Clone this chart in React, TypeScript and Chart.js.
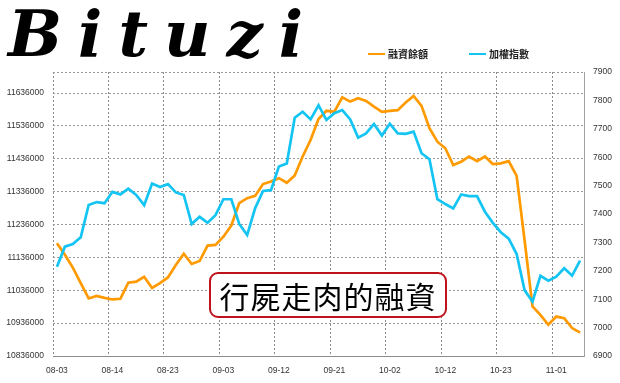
import React, { useEffect, useRef } from 'react';
import { Chart, registerables } from 'chart.js';

Chart.register(...registerables);

const dates = [
  '08-03', '08-06', '08-07', '08-08', '08-09', '08-10', '08-13', '08-14', '08-15', '08-16',
  '08-17', '08-20', '08-21', '08-22', '08-23', '08-24', '08-27', '08-28', '08-29', '08-30',
  '08-31', '09-03', '09-04', '09-05', '09-06', '09-07', '09-10', '09-11', '09-12', '09-13',
  '09-14', '09-17', '09-18', '09-19', '09-20', '09-21', '09-24', '09-25', '09-26', '09-27',
  '09-28', '10-01', '10-02', '10-03', '10-04', '10-05', '10-08', '10-09', '10-11', '10-12',
  '10-15', '10-16', '10-17', '10-18', '10-19', '10-22', '10-23', '10-24', '10-25', '10-26',
  '10-29', '10-30', '10-31', '11-01', '11-02', '11-05', '11-06',
];

// 融資餘額 (left axis)
const marginBalance = [
  11179000, 11144000, 11105000, 11058000, 11011000, 11019000, 11013000, 11008000, 11010000, 11059000,
  11062000, 11077000, 11043000, 11058000, 11075000, 11113000, 11147000, 11116000, 11125000, 11172000,
  11174000, 11199000, 11233000, 11301000, 11316000, 11323000, 11359000, 11367000, 11377000, 11363000,
  11385000, 11443000, 11493000, 11557000, 11582000, 11579000, 11623000, 11610000, 11620000, 11612000,
  11595000, 11579000, 11582000, 11584000, 11607000, 11627000, 11597000, 11529000, 11488000, 11468000,
  11417000, 11427000, 11443000, 11429000, 11443000, 11420000, 11422000, 11429000, 11384000, 11189000,
  10987000, 10961000, 10931000, 10956000, 10951000, 10921000, 10907000,
];

// 加權指數 (right axis)
const taiex = [
  7214, 7285, 7294, 7318, 7432, 7442, 7438, 7478, 7469, 7489,
  7467, 7431, 7507, 7495, 7505, 7476, 7467, 7365, 7390, 7369,
  7396, 7452, 7452, 7365, 7326, 7420, 7481, 7484, 7567, 7578,
  7739, 7760, 7733, 7783, 7731, 7755, 7766, 7733, 7669, 7684,
  7717, 7676, 7718, 7684, 7682, 7690, 7614, 7593, 7452, 7435,
  7420, 7469, 7463, 7463, 7408, 7369, 7336, 7313, 7259, 7132,
  7091, 7182, 7165, 7179, 7209, 7183, 7236,
];

const leftTicks = [
  10836000, 10936000, 11036000, 11136000, 11236000, 11336000, 11436000, 11536000, 11636000,
];
const leftMin = 10836000;
const leftMax = 11700000;
const rightMin = 6900;
const rightMax = 7900;
const rightStep = 100;
const labelEvery = 7;

const seriesNames = ['融資餘額', '加權指數'];
const seriesColors = ['#FF9A00', '#14C4F2'];

const tickFont = { family: '"Liberation Sans", Arial, sans-serif', size: 8.5 };

export default function App() {
  const ref = useRef<HTMLCanvasElement | null>(null);

  useEffect(() => {
    document.body.style.margin = '0';
    const canvas = ref.current;
    if (!canvas) return;
    const chart = new Chart(canvas, {
      type: 'line',
      data: {
        labels: dates,
        datasets: [
          {
            label: seriesNames[0],
            data: marginBalance,
            yAxisID: 'y',
            borderColor: seriesColors[0],
            backgroundColor: seriesColors[0],
            borderWidth: 2.7,
            pointRadius: 0,
            tension: 0,
            order: 2,
          },
          {
            label: seriesNames[1],
            data: taiex,
            yAxisID: 'y1',
            borderColor: seriesColors[1],
            backgroundColor: seriesColors[1],
            borderWidth: 2.7,
            pointRadius: 0,
            tension: 0,
            order: 1,
          },
        ],
      },
      options: {
        responsive: false,
        animation: false,
        layout: { padding: { top: 72, left: 0, right: 0, bottom: 0 } },
        plugins: { legend: { display: false }, tooltip: { enabled: false } },
        scales: {
          x: {
            type: 'category',
            offset: true,
            afterFit: (s: any) => { s.height = 27; },
            grid: {
              offset: true,
              drawTicks: false,
              color: (ctx: any) => (ctx.index % labelEvery === 0 ? '#8a8a8a' : 'rgba(0,0,0,0)'),
              lineWidth: 1,
            },
            border: { display: true, color: '#8c8c8c', width: 1, dash: [2, 2] },
            ticks: {
              autoSkip: false,
              maxRotation: 0,
              padding: 10,
              color: '#333',
              font: tickFont,
              callback: (_v: any, i: number) => (i % labelEvery === 0 ? dates[i] : ''),
            },
          },
          y: {
            position: 'left',
            min: leftMin,
            max: leftMax,
            afterFit: (s: any) => { s.width = 53; },
            afterBuildTicks: (s: any) => {
              s.ticks = [...leftTicks, leftMax].map((v) => ({ value: v }));
            },
            grid: { drawTicks: false, color: '#9a9a9a', lineWidth: 1 },
            border: { display: false, dash: [2, 2] },
            ticks: {
              padding: 9,
              color: '#333',
              font: tickFont,
              callback: (v: any) => (leftTicks.includes(Number(v)) ? String(v) : ''),
            },
          },
          y1: {
            position: 'right',
            min: rightMin,
            max: rightMax,
            afterFit: (s: any) => { s.width = 36; },
            grid: { display: false, drawTicks: false },
            border: { display: true, color: '#a0a0a0', width: 1 },
            ticks: {
              stepSize: rightStep,
              padding: 9,
              color: '#333',
              font: tickFont,
              callback: (v: any) => String(v),
            },
          },
        },
      },
    });
    return () => chart.destroy();
  }, []);

  return (
    <div style={{ position: 'relative', width: 620, height: 383, background: '#fff', overflow: 'hidden' }}>
      <canvas ref={ref} width={620} height={383} style={{ position: 'absolute', left: 0, top: 0 }} />
      <div
        style={{
          position: 'absolute',
          left: 8,
          top: -6,
          font: 'italic bold 64px "DejaVu Serif", serif',
          letterSpacing: 16,
          color: '#000',
          lineHeight: '80px',
        }}
      >
        Bituzi
      </div>
      <div
        style={{
          position: 'absolute',
          left: 368,
          top: 46,
          display: 'flex',
          alignItems: 'center',
          font: 'bold 10px "Noto Sans CJK TC", sans-serif',
          color: '#222',
        }}
      >
        <span style={{ display: 'inline-block', width: 17, height: 2, background: seriesColors[0], marginRight: 3 }} />
        <span>{seriesNames[0]}</span>
        <span style={{ display: 'inline-block', width: 17, height: 2, background: seriesColors[1], marginLeft: 41, marginRight: 3 }} />
        <span>{seriesNames[1]}</span>
      </div>
      <div
        style={{
          position: 'absolute',
          left: 209,
          top: 272,
          width: 234,
          height: 42,
          border: '2px solid #C0121C',
          borderRadius: 9,
          background: '#fff',
          display: 'flex',
          alignItems: 'center',
          justifyContent: 'center',
          font: '30px "Noto Sans CJK TC", sans-serif',
          color: '#000',
          letterSpacing: 1,
        }}
      >
        行屍走肉的融資
      </div>
    </div>
  );
}
